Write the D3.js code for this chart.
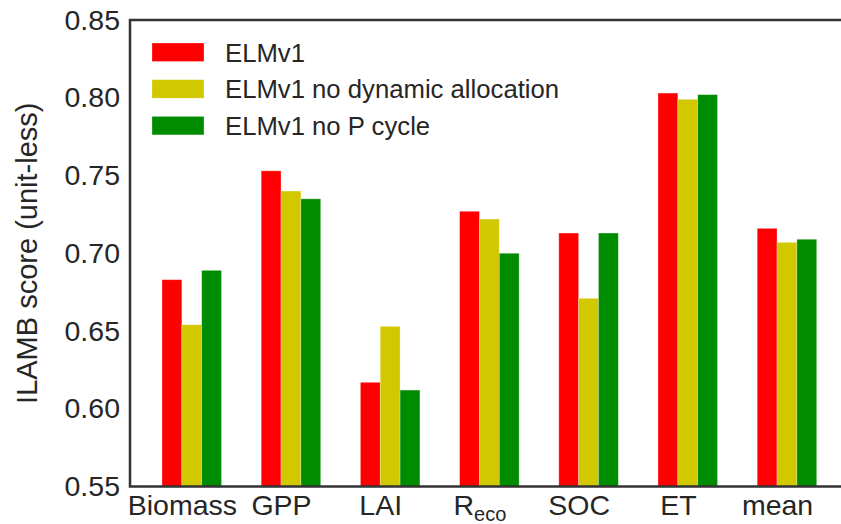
<!DOCTYPE html>
<html>
<head>
<meta charset="utf-8">
<script src="https://cdn.jsdelivr.net/npm/d3@7"></script>
<style>
  body { margin: 0; background: #fff; }
  text { font-family: "Liberation Sans", Arial, sans-serif; fill: #262626; }
</style>
</head>
<body>
<div id="chart"></div>
<script>
// data
var categories = ["Biomass", "GPP", "LAI", "Reco", "SOC", "ET", "mean"];
var seriesNames = ["ELMv1", "ELMv1 no dynamic allocation", "ELMv1 no P cycle"];
var elm = [0.683, 0.753, 0.617, 0.727, 0.713, 0.803, 0.716];
var elmNoDyn = [0.654, 0.740, 0.653, 0.722, 0.671, 0.799, 0.707];
var elmNoP = [0.689, 0.735, 0.612, 0.700, 0.713, 0.802, 0.709];
var yTicks = [0.55, 0.60, 0.65, 0.70, 0.75, 0.80, 0.85];
var colors = ["#ff0000", "#d1c800", "#008c00"];

var series = [elm, elmNoDyn, elmNoP];
var W = 841, H = 524;
var plotLeft = 130, plotTop = 20, plotBottom = 486.5;

var svg = d3.select("#chart").append("svg")
    .attr("width", W)
    .attr("height", H);

// one unit = one group, bars are 0.2 wide
var x = d3.scaleLinear().domain([0, 1]).range([162, 261.2]);
var y = d3.scaleLinear().domain([0.55, 0.85]).range([plotBottom, plotTop]);
var bw = x(0.2) - x(0);

// bars
series.forEach(function (vals, s) {
    svg.append("g")
        .selectAll("rect")
        .data(vals)
        .enter()
        .append("rect")
        .attr("x", (d, i) => x(i + 0.2 * s))
        .attr("y", d => y(d))
        .attr("width", bw)
        .attr("height", d => y(0.55) - y(d))
        .attr("fill", colors[s])
        .attr("stroke", "#ffffff")
        .attr("stroke-opacity", 0.35)
        .attr("stroke-width", 0.8);
});

// y axis
var yAxis = svg.append("g")
    .attr("transform", "translate(" + plotLeft + ",0)")
    .call(d3.axisLeft(y).tickValues(yTicks).tickFormat(d3.format(".2f")).tickSize(0).tickPadding(10));
yAxis.select(".domain").remove();
yAxis.selectAll("text")
    .style("font-size", "28.5px")
    .style("font-family", "'Liberation Sans', Arial, sans-serif")
    .attr("fill", "#262626");

// x axis
var xAxis = svg.append("g")
    .attr("transform", "translate(0," + plotBottom + ")")
    .call(d3.axisBottom(x).tickValues(d3.range(categories.length).map(i => i + 0.2))
        .tickFormat((d, i) => categories[i]).tickSize(0).tickPadding(8));
xAxis.select(".domain").remove();
xAxis.selectAll("text")
    .style("font-size", "28.5px")
    .style("font-family", "'Liberation Sans', Arial, sans-serif")
    .attr("fill", "#262626")
    .each(function (d, i) {
        if (categories[i] == "Reco") {
            var t = d3.select(this).text("");
            t.append("tspan").text("R");
            t.append("tspan").text("eco").attr("baseline-shift", "-30%").style("font-size", "20px");
        }
    });

// spines: left, bottom, top
svg.append("path")
    .attr("d", "M" + W + "," + plotTop + "H" + plotLeft + "V" + plotBottom + "H" + W)
    .attr("fill", "none")
    .attr("stroke", "#333333")
    .attr("stroke-width", 2.5);

// y label
svg.append("text")
    .attr("transform", "translate(37," + ((plotTop + plotBottom) / 2) + ") rotate(-90)")
    .attr("text-anchor", "middle")
    .style("font-size", "29px")
    .text("ILAMB score (unit-less)");

// legend
var legend = svg.append("g");
seriesNames.forEach(function (name, i) {
    var ly = 43 + i * 36.7;
    legend.append("rect")
        .attr("x", 152)
        .attr("y", ly)
        .attr("width", 52)
        .attr("height", 18.5)
        .attr("fill", colors[i])
        .attr("stroke", "#ffffff")
        .attr("stroke-opacity", 0.35)
        .attr("stroke-width", 0.8);
    legend.append("text")
        .attr("x", 225)
        .attr("y", ly + 18.5)
        .style("font-size", "25.7px")
        .text(name);
});
</script>
</body>
</html>
